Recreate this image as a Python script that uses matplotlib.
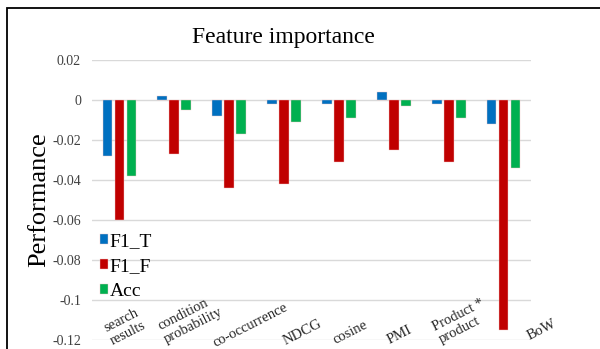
import numpy as np
import matplotlib
matplotlib.use("Agg")
from matplotlib import pyplot as plt
from matplotlib.patches import Rectangle

# Data
categories = ["search\nresults", "condition\nprobability", "co-occurrence", "NDCG",
              "cosine", "PMI", "Product *\nproduct", "BoW"]
f1_t = [-0.028, 0.002, -0.008, -0.002, -0.002, 0.004, -0.002, -0.012]
f1_f = [-0.060, -0.027, -0.044, -0.042, -0.031, -0.025, -0.031, -0.115]
acc = [-0.038, -0.005, -0.017, -0.011, -0.009, -0.003, -0.009, -0.034]
yticks = [0.02, 0, -0.02, -0.04, -0.06, -0.08, -0.1, -0.12]
ytick_labels = ["0.02", "0", "-0.02", "-0.04", "-0.06", "-0.08", "-0.1", "-0.12"]

# label placement (layout only)
label_dx = [0.10, 0.29, 0.38, 0.33, 0.20, 0.11, 0.24, 0.70]
label_y = [-0.1135, -0.1095, -0.1127, -0.116, -0.116, -0.1177, -0.1105, -0.115]

plt.rcParams['font.family'] = ['Liberation Serif', 'DejaVu Serif']

fig = plt.figure(figsize=(6, 3.49), dpi=100)
ax = fig.add_axes([92 / 600, 1 - 340 / 349, 439 / 600, 280 / 349])

x = np.arange(len(categories))
w = 0.177
step = 0.219
ax.bar(x - step, f1_t, w, color="#0070C0", edgecolor="#f4c7c7", linewidth=0.3, label="F1_T", zorder=3)
ax.bar(x, f1_f, w, color="#C00000", edgecolor="#f4c7c7", linewidth=0.3, label="F1_F", zorder=3)
ax.bar(x + step, acc, w, color="#00B050", edgecolor="#f4c7c7", linewidth=0.3, label="Acc", zorder=3)

ax.set_xlim(-0.5, len(categories) - 0.5)
ax.set_ylim(-0.12, 0.02)
ax.set_yticks(yticks)
ax.set_yticklabels(ytick_labels, fontsize=10, color="#404040")
ax.tick_params(axis="y", length=0, pad=8)
ax.set_xticks([])
for s in ax.spines.values():
    s.set_visible(False)
ax.grid(axis="y", color="#d9d9d9", linewidth=1, zorder=0)

for i, lab in enumerate(categories):
    ax.text(i + label_dx[i], label_y[i], lab, rotation=27, ha="center", va="center",
            multialignment="left", fontsize=10.5, color="#262626", rotation_mode="anchor",
            linespacing=1.1, zorder=4)

fig.text(283 / 600, 1 - 38 / 349, "Feature importance", fontsize=17, ha="center", va="center")
ax.set_ylabel("Performance", fontsize=19, labelpad=1)

leg = ax.legend(loc="upper left", bbox_to_anchor=(0.0, 0.41), frameon=False,
                fontsize=14, handlelength=0.4, handleheight=0.4, handletextpad=0.1,
                labelspacing=0.42, borderaxespad=0)

# outer frame (cropped on right and bottom)
fig.patches.append(Rectangle((7 / 600, -0.05), 1.2, 1 - 8 / 349 + 0.05, transform=fig.transFigure,
                             fill=False, edgecolor="black", linewidth=1.3))

fig.savefig("out.png", dpi=100)
